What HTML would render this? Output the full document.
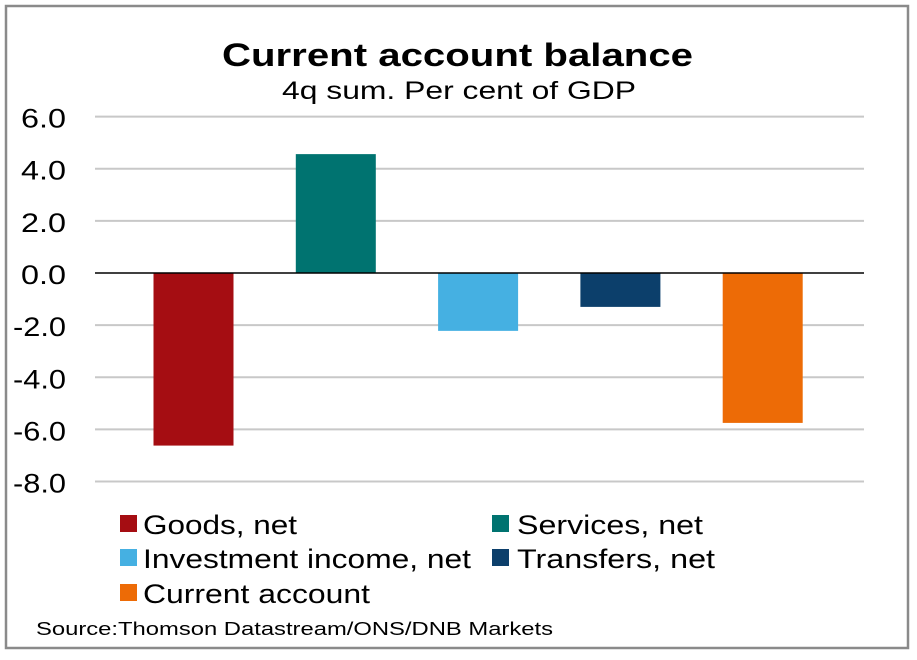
<!DOCTYPE html>
<html><head><meta charset="utf-8"><style>
body{margin:0;background:#fff;font-family:"Liberation Sans",Arial,sans-serif}
</style></head><body>
<svg width="917" height="655">
<rect x="6" y="6" width="902" height="642" fill="#fff" stroke="#8a8a8a" stroke-width="2.5"/>
<text x="222" y="66" textLength="471" lengthAdjust="spacingAndGlyphs" font-size="32" font-weight="bold">Current account balance</text>
<text x="282" y="99" textLength="354" lengthAdjust="spacingAndGlyphs" font-size="25">4q sum. Per cent of GDP</text>
<g id="grid"></g><g id="bars"></g><g id="ticks"></g>
<g font-size="27">
<rect x="120" y="515" width="17" height="17" fill="#a50d12"/>
<text x="143" y="534" textLength="154" lengthAdjust="spacingAndGlyphs">Goods, net</text>
<rect x="492" y="515" width="17" height="17" fill="#007370"/>
<text x="517" y="534" textLength="186" lengthAdjust="spacingAndGlyphs">Services, net</text>
<rect x="120" y="549" width="17" height="17" fill="#45b0e2"/>
<text x="143" y="568" textLength="328" lengthAdjust="spacingAndGlyphs">Investment income, net</text>
<rect x="492" y="549" width="17" height="17" fill="#0c3f6b"/>
<text x="517" y="568" textLength="198" lengthAdjust="spacingAndGlyphs">Transfers, net</text>
<rect x="120" y="584" width="17" height="17" fill="#ed6b06"/>
<text x="143" y="603" textLength="227" lengthAdjust="spacingAndGlyphs">Current account</text>
</g>
<text x="36" y="635" font-size="18" textLength="517" lengthAdjust="spacingAndGlyphs">Source:Thomson  Datastream/ONS/DNB  Markets</text>
</svg>
<script>
const categories=["Goods, net","Services, net","Investment income, net","Transfers, net","Current account"];
const values=[-6.62,4.56,-2.22,-1.3,-5.75];
const colors=["#a50d12","#007370","#45b0e2","#0c3f6b","#ed6b06"];
const tickValues=[6,4,2,0,-2,-4,-6,-8];
const tickLabels=["6.0","4.0","2.0","0.0","-2.0","-4.0","-6.0","-8.0"];
const NS="http://www.w3.org/2000/svg";
function y(v){return 273-v*26.07;}
function xc(i){return 193.5+i*142.3;}
const grid=document.getElementById('grid'),bars=document.getElementById('bars'),ticks=document.getElementById('ticks');
tickValues.forEach((v,i)=>{
  if(v!==0){const l=document.createElementNS(NS,'line');
  l.setAttribute('x1',95);l.setAttribute('x2',864);l.setAttribute('y1',y(v));l.setAttribute('y2',y(v));
  l.setAttribute('stroke','#c8c8c8');l.setAttribute('stroke-width','2');
  
  
  grid.appendChild(l);}
  const t=document.createElementNS(NS,'text');
  const w=v<0?53:45;
  t.setAttribute('x',66-w);t.setAttribute('y',y(v)+11);t.setAttribute('font-size','27');
  t.setAttribute('textLength',w);t.setAttribute('lengthAdjust','spacingAndGlyphs');
  t.textContent=tickLabels[i];
  
  
  ticks.appendChild(t);
});
values.forEach((v,i)=>{
  const r=document.createElementNS(NS,'rect');
  r.setAttribute('x',xc(i)-40);r.setAttribute('width',80);
  r.setAttribute('y',Math.min(y(v),y(0)));r.setAttribute('height',Math.abs(y(v)-y(0)));
  r.setAttribute('fill',colors[i]);
  
  
  bars.appendChild(r);
});
const z=document.createElementNS(NS,'line');
z.setAttribute('x1',95);z.setAttribute('x2',864);z.setAttribute('y1',y(0));z.setAttribute('y2',y(0));
z.setAttribute('stroke','#000');z.setAttribute('stroke-width','1.5');


bars.appendChild(z);
</script>
</body></html>
